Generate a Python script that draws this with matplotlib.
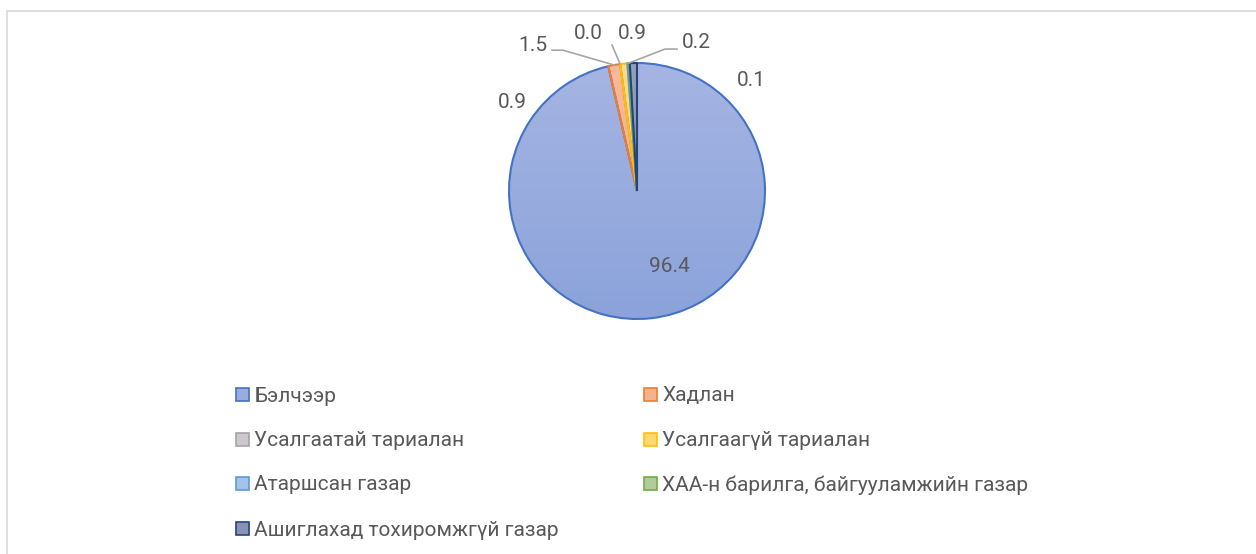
import numpy as np
import matplotlib
matplotlib.use("Agg")
import matplotlib.pyplot as plt
from matplotlib.patches import Rectangle
from matplotlib import colors as mcolors

# land use categories and their share (%)
categories = ["Бэлчээр", "Хадлан", "Усалгаатай тариалан", "Усалгаагүй тариалан",
              "Атаршсан газар", "ХАА-н барилга, байгууламжийн газар",
              "Ашиглахад тохиромжгүй газар"]
values = [96.4, 1.5, 0.0, 0.9, 0.2, 0.1, 0.9]

theme = ["#4472C4", "#ED7D31", "#A5A5A5", "#FFC000", "#5B9BD5", "#70AD47", "#264478"]

plt.rcParams['font.family'] = ['Roboto', 'Noto Sans', 'DejaVu Sans']
txt_color = "#595959"
fs = 15

W, H = 1256, 554
fig = plt.figure(figsize=(W / 100, H / 100), dpi=100)

# chart frame
fig.patches.append(Rectangle((7 / W, -0.05), 1.1, 1 - 11 / H + 0.05, transform=fig.transFigure,
                             fill=False, edgecolor="#D9D9D9", lw=1.2))

cx, cy, r = 637, 191, 128
ax = fig.add_axes([(cx - r) / W, (H - cy - r) / H, 2 * r / W, 2 * r / H])


def mix(c, t, toward=(1.0, 0.95, 1.0)):
    rgb = np.array(mcolors.to_rgb(c))
    return rgb + (np.array(toward) - rgb) * t


wedges, _ = ax.pie(values, startangle=90, counterclock=False, radius=1,
                   colors=["none"] * len(values),
                   wedgeprops=dict(linewidth=1.5, zorder=3))
for w, c in zip(wedges, theme):
    w.set_edgecolor(c)
    top, bot = mix(c, 0.52), mix(c, 0.38)
    grad = np.linspace(0, 1, 256)[:, None, None]
    img = np.clip(top * (1 - grad) + bot * grad, 0, 1)
    im = ax.imshow(img, extent=(-1, 1, -1, 1), aspect="auto", zorder=2)
    im.set_clip_path(w)

ax.set_xlim(-1, 1)
ax.set_ylim(-1, 1)
ax.set_aspect("auto")
ax.axis("off")

# data label positions (axes data units), with optional leader elbow
label_pos = [(0.25, -0.586), (-0.8125, 1.14), (-0.383, 1.227), (-0.039, 1.227),
             (0.461, 1.164), (0.89, 0.867), (-0.977, 0.6875)]
leaders = {1: [(-0.664, 1.10), (-0.578, 1.10)],
           2: [(-0.195, 1.14)],
           4: [(0.3125, 1.109), (0.219, 1.109)]}

for i, (v, (lx, ly)) in enumerate(zip(values, label_pos)):
    ax.text(lx, ly, f"{v:.1f}", ha="center", va="center", fontsize=fs, color=txt_color)
    if i in leaders:
        w = wedges[i]
        mid = np.deg2rad((w.theta1 + w.theta2) / 2)
        pts = leaders[i] + [(np.cos(mid), np.sin(mid))]
        xs, ys = zip(*pts)
        ax.plot(xs, ys, color="#A6A6A6", lw=1.2, clip_on=False, zorder=4)

# legend, two columns row-major
col_x = [236, 644]
row_y = [394, 439, 483, 528]
sq = 13
for i, (name, c) in enumerate(zip(categories, theme)):
    x0 = col_x[i % 2]
    y0 = row_y[i // 2]
    fig.patches.append(Rectangle((x0 / W, (H - y0 - sq / 2) / H), sq / W, sq / H,
                                 transform=fig.transFigure, facecolor=mix(c, 0.45),
                                 edgecolor=c, lw=1.2))
    fig.text((x0 + sq + 5) / W, (H - y0) / H, name, ha="left", va="center_baseline",
             fontsize=fs, color=txt_color)

fig.savefig("out.png", dpi=100)
